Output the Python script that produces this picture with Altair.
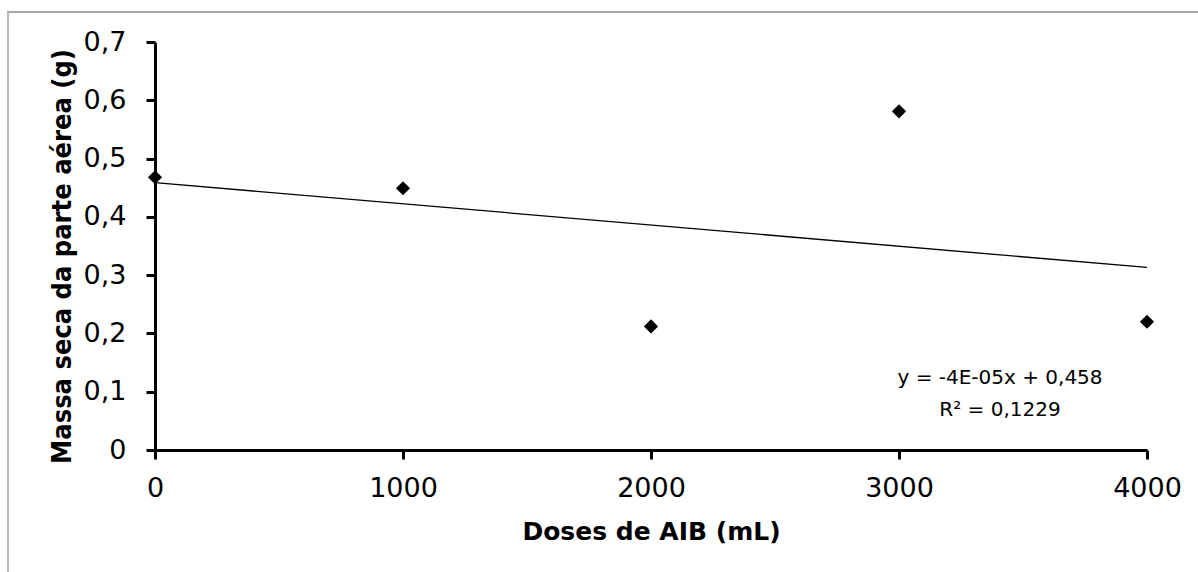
import altair as alt
import pandas as pd

# Data
doses = [0, 1000, 2000, 3000, 4000]
massa = [0.468, 0.449, 0.212, 0.581, 0.220]
x_ticks = [0, 1000, 2000, 3000, 4000]
y_ticks = [0, 0.1, 0.2, 0.3, 0.4, 0.5, 0.6, 0.7]
eq_lines = ["y = -4E-05x + 0,458", "R² = 0,1229"]

df = pd.DataFrame({"dose": doses, "massa": massa})

FONT = "DejaVu Sans"

x_enc = alt.X(
    "dose:Q",
    scale=alt.Scale(domain=[0, 4000], nice=False, zero=False),
    axis=alt.Axis(
        values=x_ticks, format="d", title="Doses de AIB (mL)",
        labelFont=FONT, labelFontSize=27, labelColor="black", labelPadding=16,
        labelFlush=False, labelOverlap=False,
        tickSize=9, tickWidth=3, tickColor="black",
        domainWidth=3, domainColor="black", grid=False,
        titleFont=FONT, titleFontSize=25, titleFontWeight="bold", titleColor="black",
        titleY=81, titleBaseline="middle",
    ),
)
y_enc = alt.Y(
    "massa:Q",
    scale=alt.Scale(domain=[0, 0.7], nice=False),
    axis=alt.Axis(
        values=y_ticks,
        labelExpr="datum.value == 0 ? '0' : replace(format(datum.value, '.1f'), '.', ',')",
        title="Massa seca da parte aérea (g)",
        labelFont=FONT, labelFontSize=27, labelColor="black", labelPadding=20,
        labelOverlap=False, labelFlush=False,
        tickSize=9, tickWidth=3, tickColor="black",
        domainWidth=3, domainColor="black", grid=False,
        titleFont="DejaVu Sans Condensed, DejaVu Sans",
        titleFontSize=27, titleFontWeight="bold", titleColor="black",
        titleX=-93, titleY=214, titleAngle=270, titleBaseline="middle", titleAlign="center",
    ),
)

# outer chart frame (top and left edges; the rest lies outside the window)
frame_data = alt.Data(values=[{}])
frame_top = alt.Chart(frame_data).mark_rule(
    color="#a8a8a8", strokeWidth=2, strokeCap="square"
).encode(x=alt.value(-147), x2=alt.value(1100), y=alt.value(-30))
frame_left = alt.Chart(frame_data).mark_rule(
    color="#b8b8b8", strokeWidth=2
).encode(x=alt.value(-147), y=alt.value(-30), y2=alt.value(600))

base = alt.Chart(df)

trend = base.transform_regression(
    "dose", "massa", extent=[0, 4000]
).mark_line(color="black", strokeWidth=1.3).encode(x=x_enc, y=y_enc)

points = base.mark_point(
    shape="diamond", filled=True, color="black", size=200, opacity=1
).encode(x="dose:Q", y="massa:Q")

texts = []
for i, s in enumerate(eq_lines):
    texts.append(
        alt.Chart(alt.Data(values=[{"t": s}])).mark_text(
            font=FONT, fontSize=20, color="black", baseline="middle", align="center"
        ).encode(text="t:N", x=alt.value(845), y=alt.value(336 + 32 * i))
    )

chart = alt.layer(frame_top, frame_left, trend, points, *texts).properties(
    width=992,
    height=408,
    autosize=alt.AutoSizeParams(type="none"),
    padding={"left": 155, "top": 42, "right": 51, "bottom": 122},
    background="white",
).configure_view(stroke=None)

chart.save("out.html", embed_options={"renderer": "svg", "actions": False})
